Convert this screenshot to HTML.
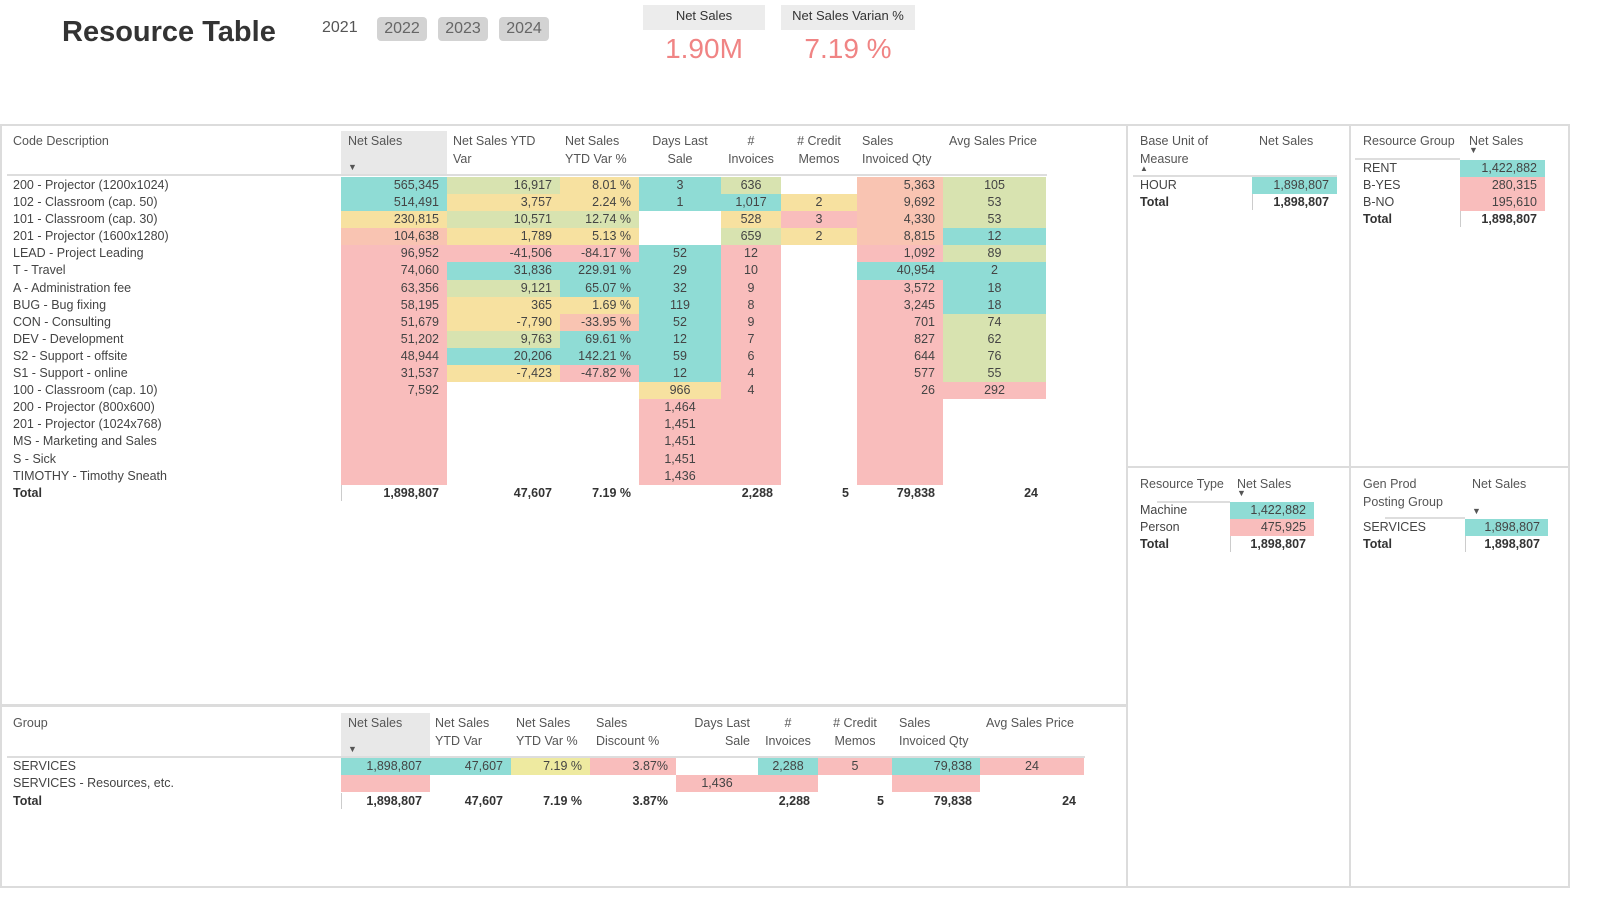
<!DOCTYPE html>
<html><head><meta charset="utf-8"><style>
*{margin:0;padding:0;box-sizing:border-box}
body{width:1600px;height:912px;background:#fff;font-family:"Liberation Sans",sans-serif;color:#444;position:relative;overflow:hidden;font-size:12.5px}
.a{position:absolute;white-space:nowrap}
.panel{position:absolute;border:2px solid #dcdcdc}
.grid{position:absolute;display:grid;grid-auto-rows:17.1px}
.grid div{padding:0 8px;line-height:17.1px;text-align:right;white-space:nowrap;overflow:hidden}
.grid div.l{text-align:left;padding-left:6px}
.grid div.c{text-align:center}
.t{background:#8fdcd5}.y{background:#f7e1a0}.p{background:#f9bdbc}.g{background:#d8e3b0}.o{background:#f9c4b2}
.hd{color:#555;line-height:18px}
.b{font-weight:bold;color:#333}
.line{position:absolute;background:#ddd}
</style></head><body>

<div class="a b" style="left:62px;top:16px;font-size:29px;color:#333">Resource Table</div>
<div class="a" style="left:322px;top:19px;font-size:16px;color:#555">2021</div>
<div class="a" style="left:377px;top:17px;width:50px;height:24px;background:#d3d3d3;border-radius:4px;font-size:16px;color:#666;text-align:center;line-height:24px">2022</div>
<div class="a" style="left:438px;top:17px;width:50px;height:24px;background:#d3d3d3;border-radius:4px;font-size:16px;color:#666;text-align:center;line-height:24px">2023</div>
<div class="a" style="left:499px;top:17px;width:50px;height:24px;background:#d3d3d3;border-radius:4px;font-size:16px;color:#666;text-align:center;line-height:24px">2024</div>
<div class="a" style="left:643px;top:5px;width:122px;height:25px;background:#ececec;text-align:center;line-height:22px;font-size:13px;color:#333">Net Sales</div>
<div class="a" style="left:781px;top:5px;width:134px;height:25px;background:#ececec;text-align:center;line-height:22px;font-size:13px;color:#333">Net Sales Varian %</div>
<div class="a" style="left:643px;top:33px;width:122px;text-align:center;font-size:28px;color:#f08484">1.90M</div>
<div class="a" style="left:781px;top:33px;width:134px;text-align:center;font-size:28px;color:#f08484">7.19 %</div>

<div class="panel" style="left:0;top:124px;width:1128px;height:582px"></div>
<div class="panel" style="left:0;top:705px;width:1128px;height:183px"></div>
<div class="panel" style="left:1126px;top:124px;width:225px;height:344px"></div>
<div class="panel" style="left:1349px;top:124px;width:221px;height:344px"></div>
<div class="panel" style="left:1126px;top:466px;width:225px;height:422px"></div>
<div class="panel" style="left:1349px;top:466px;width:221px;height:422px"></div>

<!-- main header -->
<div class="a" style="left:341px;top:131px;width:106px;height:43px;background:#e8e8e8"></div>
<div class="a hd" style="left:13px;top:132px">Code Description</div>
<div class="a hd" style="left:348px;top:132px">Net Sales</div>
<div class="a" style="left:348px;top:162px;font-size:9px;color:#555">▼</div>
<div class="a hd" style="left:453px;top:132px">Net Sales YTD<br>Var</div>
<div class="a hd" style="left:565px;top:132px">Net Sales<br>YTD Var %</div>
<div class="a hd" style="left:639px;top:132px;width:82px;text-align:center">Days Last<br>Sale</div>
<div class="a hd" style="left:721px;top:132px;width:60px;text-align:center">#<br>Invoices</div>
<div class="a hd" style="left:781px;top:132px;width:76px;text-align:center"># Credit<br>Memos</div>
<div class="a hd" style="left:862px;top:132px">Sales<br>Invoiced Qty</div>
<div class="a hd" style="left:949px;top:132px">Avg Sales Price</div>
<div class="line" style="left:7px;top:174px;width:1040px;height:2px"></div>

<div class="grid" style="left:7px;top:177px;grid-template-columns:334px 106px 113px 79px 82px 60px 76px 86px 103px">
<div class="l">200 - Projector (1200x1024)</div><div class="t">565,345</div><div class="g">16,917</div><div class="y">8.01 %</div><div class="t c">3</div><div class="g c">636</div><div></div><div class="o">5,363</div><div class="g c">105</div>
<div class="l">102 - Classroom (cap. 50)</div><div class="t">514,491</div><div class="y">3,757</div><div class="y">2.24 %</div><div class="t c">1</div><div class="t c">1,017</div><div class="y c">2</div><div class="o">9,692</div><div class="g c">53</div>
<div class="l">101 - Classroom (cap. 30)</div><div class="y">230,815</div><div class="g">10,571</div><div class="g">12.74 %</div><div></div><div class="y c">528</div><div class="p c">3</div><div class="o">4,330</div><div class="g c">53</div>
<div class="l">201 - Projector (1600x1280)</div><div class="o">104,638</div><div class="y">1,789</div><div class="y">5.13 %</div><div></div><div class="g c">659</div><div class="y c">2</div><div class="o">8,815</div><div class="t c">12</div>
<div class="l">LEAD - Project Leading</div><div class="p">96,952</div><div class="p">-41,506</div><div class="p">-84.17 %</div><div class="t c">52</div><div class="p c">12</div><div></div><div class="p">1,092</div><div class="g c">89</div>
<div class="l">T - Travel</div><div class="p">74,060</div><div class="t">31,836</div><div class="t">229.91 %</div><div class="t c">29</div><div class="p c">10</div><div></div><div class="t">40,954</div><div class="t c">2</div>
<div class="l">A - Administration fee</div><div class="p">63,356</div><div class="g">9,121</div><div class="t">65.07 %</div><div class="t c">32</div><div class="p c">9</div><div></div><div class="p">3,572</div><div class="t c">18</div>
<div class="l">BUG - Bug fixing</div><div class="p">58,195</div><div class="y">365</div><div class="y">1.69 %</div><div class="t c">119</div><div class="p c">8</div><div></div><div class="p">3,245</div><div class="t c">18</div>
<div class="l">CON - Consulting</div><div class="p">51,679</div><div class="y">-7,790</div><div class="o">-33.95 %</div><div class="t c">52</div><div class="p c">9</div><div></div><div class="p">701</div><div class="g c">74</div>
<div class="l">DEV - Development</div><div class="p">51,202</div><div class="g">9,763</div><div class="t">69.61 %</div><div class="t c">12</div><div class="p c">7</div><div></div><div class="p">827</div><div class="g c">62</div>
<div class="l">S2 - Support - offsite</div><div class="p">48,944</div><div class="t">20,206</div><div class="t">142.21 %</div><div class="t c">59</div><div class="p c">6</div><div></div><div class="p">644</div><div class="g c">76</div>
<div class="l">S1 - Support - online</div><div class="p">31,537</div><div class="y">-7,423</div><div class="p">-47.82 %</div><div class="t c">12</div><div class="p c">4</div><div></div><div class="p">577</div><div class="g c">55</div>
<div class="l">100 - Classroom (cap. 10)</div><div class="p">7,592</div><div></div><div></div><div class="y c">966</div><div class="p c">4</div><div></div><div class="p">26</div><div class="p c">292</div>
<div class="l">200 - Projector (800x600)</div><div class="p"></div><div></div><div></div><div class="p c">1,464</div><div class="p"></div><div></div><div class="p"></div><div></div>
<div class="l">201 - Projector (1024x768)</div><div class="p"></div><div></div><div></div><div class="p c">1,451</div><div class="p"></div><div></div><div class="p"></div><div></div>
<div class="l">MS - Marketing and Sales</div><div class="p"></div><div></div><div></div><div class="p c">1,451</div><div class="p"></div><div></div><div class="p"></div><div></div>
<div class="l">S - Sick</div><div class="p"></div><div></div><div></div><div class="p c">1,451</div><div class="p"></div><div></div><div class="p"></div><div></div>
<div class="l">TIMOTHY - Timothy Sneath</div><div class="p"></div><div></div><div></div><div class="p c">1,436</div><div class="p"></div><div></div><div class="p"></div><div></div>
</div>
<div class="line" style="left:341px;top:485px;width:1px;height:16px;background:#ccc"></div>
<div class="grid b" style="left:7px;top:485px;grid-template-columns:334px 106px 113px 79px 82px 60px 76px 86px 103px">
<div class="l">Total</div><div>1,898,807</div><div>47,607</div><div>7.19 %</div><div></div><div>2,288</div><div>5</div><div>79,838</div><div>24</div>
</div>

<!-- bottom table -->
<div class="a" style="left:341px;top:713px;width:89px;height:43px;background:#e8e8e8"></div>
<div class="a hd" style="left:13px;top:714px">Group</div>
<div class="a hd" style="left:348px;top:714px">Net Sales</div>
<div class="a" style="left:348px;top:744px;font-size:9px;color:#555">▼</div>
<div class="a hd" style="left:435px;top:714px">Net Sales<br>YTD Var</div>
<div class="a hd" style="left:516px;top:714px">Net Sales<br>YTD Var %</div>
<div class="a hd" style="left:596px;top:714px">Sales<br>Discount %</div>
<div class="a hd" style="left:676px;top:714px;width:82px;text-align:right;padding-right:8px">Days Last<br>Sale</div>
<div class="a hd" style="left:758px;top:714px;width:60px;text-align:center">#<br>Invoices</div>
<div class="a hd" style="left:818px;top:714px;width:74px;text-align:center"># Credit<br>Memos</div>
<div class="a hd" style="left:899px;top:714px">Sales<br>Invoiced Qty</div>
<div class="a hd" style="left:986px;top:714px">Avg Sales Price</div>
<div class="line" style="left:7px;top:756px;width:1078px;height:2px"></div>
<div class="grid" style="left:7px;top:758px;grid-template-columns:334px 89px 81px 79px 86px 82px 60px 74px 88px 104px">
<div class="l">SERVICES</div><div class="t">1,898,807</div><div class="t">47,607</div><div class="y" style="background:#eeeaa0">7.19 %</div><div class="p">3.87%</div><div></div><div class="t c">2,288</div><div class="p c">5</div><div class="t">79,838</div><div class="p c">24</div>
<div class="l">SERVICES - Resources, etc.</div><div class="p"></div><div></div><div></div><div></div><div class="p c">1,436</div><div class="p"></div><div></div><div class="p"></div><div></div>
</div>
<div class="line" style="left:341px;top:793px;width:1px;height:16px;background:#ccc"></div>
<div class="grid b" style="left:7px;top:793px;grid-template-columns:334px 89px 81px 79px 86px 82px 60px 74px 88px 104px">
<div class="l">Total</div><div>1,898,807</div><div>47,607</div><div>7.19 %</div><div>3.87%</div><div></div><div>2,288</div><div>5</div><div>79,838</div><div>24</div>
</div>

<!-- Base unit -->
<div class="a hd" style="left:1140px;top:132px">Base Unit of<br>Measure</div>
<div class="a" style="left:1140px;top:164px;font-size:8px;color:#555">▲</div>
<div class="a hd" style="left:1259px;top:132px">Net Sales</div>
<div class="line" style="left:1133px;top:175px;width:204px;height:2px"></div>
<div class="grid" style="left:1134px;top:177px;grid-template-columns:118px 85px">
<div class="l">HOUR</div><div class="t">1,898,807</div>
<div class="l b">Total</div><div class="b">1,898,807</div>
</div>
<div class="line" style="left:1252px;top:194px;width:1px;height:16px;background:#ccc"></div>

<!-- Resource Group -->
<div class="a hd" style="left:1363px;top:132px">Resource Group</div>
<div class="a hd" style="left:1469px;top:132px">Net Sales</div>
<div class="a" style="left:1469px;top:145px;font-size:9px;color:#555">▼</div>
<div class="line" style="left:1355px;top:158px;width:105px;height:2px"></div>
<div class="grid" style="left:1357px;top:160px;grid-template-columns:103px 85px">
<div class="l">RENT</div><div class="t">1,422,882</div>
<div class="l">B-YES</div><div class="p">280,315</div>
<div class="l">B-NO</div><div class="p">195,610</div>
<div class="l b">Total</div><div class="b">1,898,807</div>
</div>
<div class="line" style="left:1460px;top:211px;width:1px;height:16px;background:#ccc"></div>

<!-- Resource Type -->
<div class="a hd" style="left:1140px;top:475px">Resource Type</div>
<div class="a hd" style="left:1237px;top:475px">Net Sales</div>
<div class="a" style="left:1237px;top:488px;font-size:9px;color:#555">▼</div>
<div class="line" style="left:1157px;top:501px;width:73px;height:2px"></div>
<div class="grid" style="left:1134px;top:502px;grid-template-columns:96px 84px">
<div class="l">Machine</div><div class="t">1,422,882</div>
<div class="l">Person</div><div class="p">475,925</div>
<div class="l b">Total</div><div class="b">1,898,807</div>
</div>
<div class="line" style="left:1230px;top:536px;width:1px;height:16px;background:#ccc"></div>

<!-- Gen Prod -->
<div class="a hd" style="left:1363px;top:475px">Gen Prod<br>Posting Group</div>
<div class="a hd" style="left:1472px;top:475px">Net Sales</div>
<div class="a" style="left:1472px;top:506px;font-size:9px;color:#555">▼</div>
<div class="line" style="left:1385px;top:517px;width:80px;height:2px"></div>
<div class="grid" style="left:1357px;top:519px;grid-template-columns:108px 83px">
<div class="l">SERVICES</div><div class="t">1,898,807</div>
<div class="l b">Total</div><div class="b">1,898,807</div>
</div>
<div class="line" style="left:1465px;top:536px;width:1px;height:16px;background:#ccc"></div>

</body></html>
